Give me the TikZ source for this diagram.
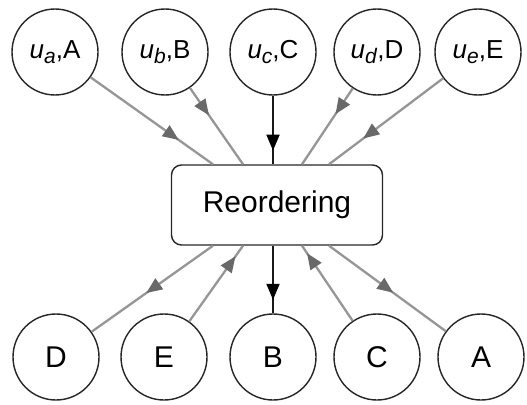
\documentclass[tikz,border=0pt]{standalone}
\usepackage{fontspec}
\setmainfont{Liberation Sans}
\usetikzlibrary{arrows.meta,decorations.markings}

\definecolor{edgegray}{RGB}{150,150,150}
\definecolor{tipgray}{RGB}{105,105,105}
\newcommand{\usub}[1]{\textit{u}\raisebox{-0.35ex}{\fontsize{21}{21}\selectfont\textit{#1}}}

\begin{document}
\begin{tikzpicture}[x=1pt,y=-1pt,
  state/.style={draw=black!85,line width=1.4pt,circle,minimum size=86pt,inner sep=0pt},
  inlabel/.style={font=\fontsize{26}{30}\selectfont},
  outlabel/.style={font=\fontsize{30}{34}\selectfont},
  grayedge/.style={draw=edgegray,line width=2.3pt,postaction={decorate},
    decoration={markings,mark=at position #1 with {\arrow[tipgray]{Triangle[length=16pt,width=13pt]}}}},
  blackedge/.style={draw=black!90,line width=2pt,postaction={decorate},
    decoration={markings,mark=at position #1 with {\arrow[black]{Triangle[length=16pt,width=13pt]}}}}]
\useasboundingbox (0,0) rectangle (527,404);

% inputs
\node[state,inlabel] (ua) at (55,52) {\usub{a},A};
\node[state,inlabel] (ub) at (165,52) {\usub{b},B};
\node[state,inlabel] (uc) at (273,52) {\usub{c},C};
\node[state,inlabel] (ud) at (377,52) {\usub{d},D};
\node[state,inlabel] (ue) at (478,52) {\usub{e},E};

\node[draw=black!85,line width=1.4pt,rounded corners=10pt,minimum width=211pt,
  minimum height=80pt,outlabel] (box) at (277,205) {Reordering};

% outputs
\node[state,outlabel] (D) at (56,357) {D};
\node[state,outlabel] (E) at (164,357) {E};
\node[state,outlabel] (B) at (273,357) {B};
\node[state,outlabel] (C) at (377,357) {C};
\node[state,outlabel] (A) at (481,357) {A};

\coordinate (tA) at ([xshift=-64pt]box.north);
\coordinate (tB) at ([xshift=-34pt]box.north);
\coordinate (tC) at ([xshift=-4pt]box.north);
\coordinate (tD) at ([xshift=25pt]box.north);
\coordinate (tE) at ([xshift=52pt]box.north);
\coordinate (bD) at ([xshift=-64pt]box.south);
\coordinate (bE) at ([xshift=-34pt]box.south);
\coordinate (bB) at ([xshift=-4pt]box.south);
\coordinate (bC) at ([xshift=25pt]box.south);
\coordinate (bA) at ([xshift=52pt]box.south);

\draw[grayedge=0.72] (ua) -- (tA);
\draw[grayedge=0.36] (ub) -- (tB);
\draw[blackedge=0.8] (uc) -- (tC);
\draw[grayedge=0.34] (ud) -- (tD);
\draw[grayedge=0.7] (ue) -- (tE);

\draw[grayedge=0.55] (bD) -- (D);
\draw[grayedge=0.86] (E) -- (bE);
\draw[blackedge=0.8] (bB) -- (B);
\draw[grayedge=0.9] (C) -- (bC);
\draw[grayedge=0.55] (bA) -- (A);
\end{tikzpicture}
\end{document}
